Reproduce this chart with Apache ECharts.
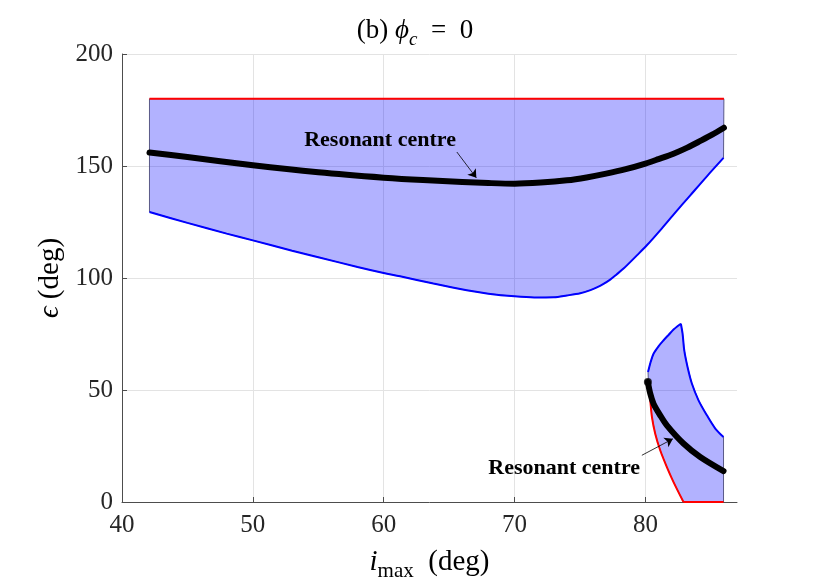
<!DOCTYPE html>
<html>
<head>
<meta charset="utf-8">
<script src="https://cdn.jsdelivr.net/npm/echarts@6/dist/echarts.min.js"></script>
<style>html,body{margin:0;padding:0;background:#fff;}#c{width:830px;height:587px;}</style>
</head>
<body>
<div id="c"></div>
<script>
// ---- data (deg) ----
var upperTop = [[42.1, 180], [86, 180]];
var upperBottom = [[42.1,129.5],[45,124.6],[48,119.8],[50,116.8],[53,112.2],[55,109.3],[58,104.9],[60,102.2],[61.25,100.8],[63.8,97.5],[66.35,94.5],[68,93.0],[70,91.8],[71.5,91.3],[73,91.4],[74,92.2],[75.02,93.2],[75.8,94.6],[76.29,95.8],[76.8,97.4],[77.31,99.3],[77.8,101.6],[78.33,104.2],[79.35,110.1],[80.11,114.6],[81.13,121.3],[82.15,128.3],[83.43,136.9],[84.7,145.4],[85.97,153.6]];
var centre1 = [[42.1,156.0],[45,154.0],[50,150.3],[55,147.2],[60,144.8],[63,143.7],[66,142.9],[68,142.4],[70,142.1],[72,142.6],[74,143.6],[75.5,144.9],[77,146.6],[78.5,148.6],[80,151.1],[81,153.1],[82.15,155.5],[83.2,158.2],[84.2,161.2],[85.1,164.0],[86,167.1]];
var lowerTopLeft = [[80.2,58.0],[80.4,62.5],[80.62,66.2],[81.0,69.5],[81.39,72.2],[81.8,74.8],[82.15,77.0],[82.45,78.5],[82.71,79.6]];
var lowerTopRight = [[82.71,79.6],[82.84,75.2],[82.97,67.7],[83.22,60.3],[83.55,52.9],[84.06,45.4],[84.7,38.7],[85.34,32.8],[85.97,29.0]];
var lowerBottom = [[80.24,52.1],[80.37,45.4],[80.5,37.9],[80.75,30.5],[81.13,23.1],[81.64,15.6],[82.15,8.9],[82.91,0],[85.97,0]];
var centre2 = [[80.19,53.6],[80.37,48.4],[80.62,43.9],[81.13,38.7],[81.64,34.2],[82.91,26.1],[84.19,20.1],[85.97,13.8]];
var centre2Start = [[80.19,53.6]];
var labelText = 'Resonant centre';
var label1Pos = [59.72, 161.5];
var arrow1 = [[65.59,156.25],[67.08,144.7]];
var label2Pos = [73.79, 15.0];
var arrow2 = [[79.73,20.85],[82.1,28.2]];
var xTicks = [40, 50, 60, 70, 80];
var yTicks = [0, 50, 100, 150, 200];

var upperPoly = upperTop.concat(upperBottom.slice().reverse());
var lowerPoly = lowerTopLeft.concat(lowerTopRight.slice(1)).concat(lowerBottom.slice().reverse());

var serif = "'Liberation Serif','DejaVu Serif','Times New Roman',serif";
var axisColor = '#4d4d4d';

function polyRender(points) {
  return function (params, api) {
    if (params.dataIndex !== 0) return null;
    var pts = points.map(function (p) { return api.coord(p); });
    return {
      type: 'polygon',
      shape: { points: pts },
      style: { fill: 'rgba(0,0,255,0.3)', stroke: '#3a3a6a', lineWidth: 0.8 }
    };
  };
}

function richSet(size, subSize, lh) {
  return {
    n: { fontFamily: serif, fontSize: size, fontWeight: 'normal', color: '#000', lineHeight: lh },
    i: { fontFamily: serif, fontSize: size, fontWeight: 'normal', fontStyle: 'italic', color: '#000', lineHeight: lh },
    s: { fontFamily: serif, fontSize: subSize, fontWeight: 'normal', color: '#000', lineHeight: lh, verticalAlign: 'bottom' },
    si: { fontFamily: serif, fontSize: subSize, fontWeight: 'normal', fontStyle: 'italic', color: '#000', lineHeight: lh, verticalAlign: 'bottom' }
  };
}

var chart = echarts.init(document.getElementById('c'), null, { renderer: 'canvas' });

var arrowMarkLine = {
  silent: true, symbol: ['none', 'arrow'], symbolSize: 8,
  label: { show: false },
  lineStyle: { color: '#000', width: 0.8, type: 'solid' },
  data: [[{ coord: arrow1[0] }, { coord: arrow1[1] }], [{ coord: arrow2[0] }, { coord: arrow2[1] }]]
};

chart.setOption({
  animation: false,
  backgroundColor: '#fff',
  title: {
    text: '{n|(b) }{i|ϕ}{si|c}{n|\u2002=\u20020}',
    left: 'center',
    top: 8,
    textStyle: { fontWeight: 'normal', rich: richSet(27, 19, 36) }
  },
  grid: { left: 122, right: 93, top: 54, bottom: 85 },
  xAxis: {
    type: 'value', min: 40, max: 87, interval: 10,
    name: '{i|i}{s|max}{n|\u2002(deg)}',
    nameLocation: 'middle', nameGap: 40,
    nameTextStyle: { rich: richSet(29, 21, 40) },
    axisLine: { show: true, lineStyle: { color: axisColor, width: 1 } },
    axisTick: { show: true, inside: true, length: 5, customValues: xTicks, lineStyle: { color: axisColor } },
    axisLabel: {
      fontFamily: serif, fontSize: 25, color: '#262626', margin: 11,
      customValues: xTicks
    },
    splitLine: { show: true, lineStyle: { color: '#e3e3e3', width: 1 } }
  },
  yAxis: {
    type: 'value', min: 0, max: 200, interval: 50,
    name: '{i|ϵ}{n| (deg)}',
    nameLocation: 'middle', nameGap: 50, nameRotate: 90,
    nameTextStyle: { rich: richSet(29, 21, 40) },
    axisLine: { show: true, lineStyle: { color: axisColor, width: 1 } },
    axisTick: { show: true, inside: true, length: 5, lineStyle: { color: axisColor } },
    axisLabel: {
      fontFamily: serif, fontSize: 25, color: '#262626', margin: 9,
      formatter: function (v) { return yTicks.indexOf(v) >= 0 ? String(v) : ''; }
    },
    splitLine: { show: true, lineStyle: { color: '#e3e3e3', width: 1 } }
  },
  series: [
    { type: 'custom', renderItem: polyRender(upperPoly), data: [upperPoly[0]], silent: true, z: 1 },
    { type: 'custom', renderItem: polyRender(lowerPoly), data: [lowerPoly[0]], silent: true, z: 1 },
    { type: 'line', data: upperTop, showSymbol: false, lineStyle: { color: '#ff0000', width: 2 }, z: 3 },
    { type: 'line', data: upperBottom, showSymbol: false, smooth: 0.3, lineStyle: { color: '#0000ff', width: 2 }, z: 3 },
    { type: 'line', data: lowerTopLeft, showSymbol: false, smooth: 0.3, lineStyle: { color: '#0000ff', width: 2 }, z: 3 },
    { type: 'line', data: lowerTopRight, showSymbol: false, smooth: 0.3, lineStyle: { color: '#0000ff', width: 2 }, z: 3 },
    { type: 'line', data: lowerBottom.slice(0, 8), showSymbol: false, smooth: 0.3, lineStyle: { color: '#ff0000', width: 2 }, z: 3 },
    { type: 'line', data: lowerBottom.slice(7), showSymbol: false, lineStyle: { color: '#ff0000', width: 2 }, z: 3 },
    {
      type: 'line', data: centre1, showSymbol: false, smooth: 0.3, z: 4,
      lineStyle: { color: '#000', width: 6, cap: 'round', join: 'round' },
      markPoint: {
        silent: true, symbol: 'circle', symbolSize: 0,
        label: { show: true, position: 'inside', formatter: '{b}', fontFamily: serif, fontWeight: 'bold', fontSize: 22, color: '#000' },
        data: [{ name: labelText, coord: label1Pos }, { name: labelText, coord: label2Pos }]
      }
    },
    {
      type: 'line', data: centre2, showSymbol: false, smooth: 0.3, z: 4,
      lineStyle: { color: '#000', width: 6, cap: 'round', join: 'round' }
    },
    { type: 'scatter', data: centre2Start, symbol: 'circle', symbolSize: 8, itemStyle: { color: '#000' }, z: 5,
      markLine: arrowMarkLine }
  ]
});
</script>
</body>
</html>
